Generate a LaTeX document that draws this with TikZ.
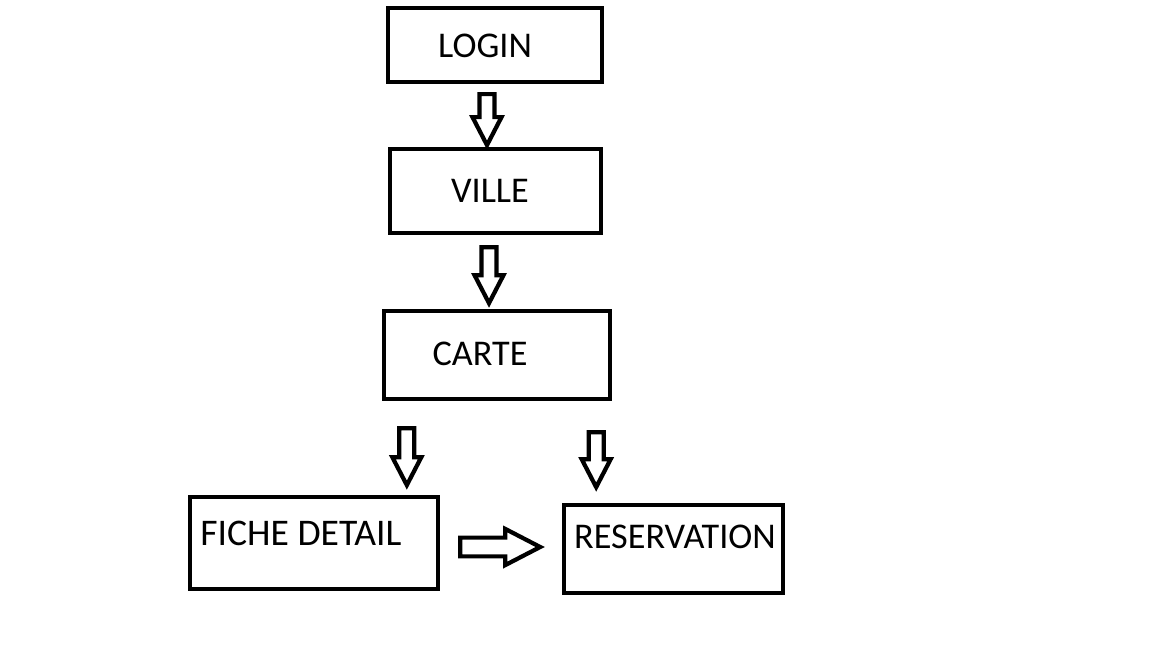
\documentclass[tikz,border=0pt]{standalone}
\usepackage{fontspec}
\setmainfont{Carlito}
\usepackage{tikz}
\usetikzlibrary{calc}
\usetikzlibrary{positioning}
\tikzstyle{ecran}=[rectangle,draw,line width=1.2pt,fill=white,inner sep=0pt]
\tikzstyle{titre}=[anchor=base,inner sep=0pt,font=\fontsize{10.3}{12}\selectfont]
\tikzstyle{trait}=[draw,line width=1.2pt,line join=miter,fill=white]
\tikzset{fleche/.pic={
  \path[trait] (0,-7.5) -- (#1-28,-7.5) -- (#1-28,-14.5) -- (#1,0)
    -- (#1-28,14.5) -- (#1-28,7.5) -- (0,7.5) -- cycle;
}}

\begin{document}
\begin{tikzpicture}[x=0.01cm,y=-0.01cm]
\useasboundingbox (0,0) rectangle (1152,648);
\node[ecran,minimum width=2.14cm,minimum height=0.74cm] (login) at (495,45) {};
\node[ecran,minimum width=2.11cm,minimum height=0.84cm] (ville) at (495.5,191) {};
\node[ecran,minimum width=2.26cm,minimum height=0.88cm] (carte) at (497,355) {};
\node[ecran,minimum width=2.48cm,minimum height=0.92cm] (fiche) at (314,543) {};
\node[ecran,minimum width=2.19cm,minimum height=0.88cm] (resa) at (673.5,549) {};
\node[titre] (tlogin) at (485,57) {LOGIN};
\node[titre] (tville) at (490,202) {VILLE};
\node[titre] (tcarte) at (480,365) {CARTE};
\node[titre,font=\fontsize{10.7}{13}\selectfont] (tfiche) at (301,545) {FICHE DETAIL};
\node[titre] (tresa) at (675,548) {RESERVATION};
%Placement des fleches
\pic[rotate=-90] (f1) at ($(login.south)+(-8,10)$) {fleche=51};
\pic[rotate=-90] (f2) at ($(ville.south)+(-6.5,12)$) {fleche=56};
\pic[rotate=-90] (f3) at ($(carte.south west)+(25,27)$) {fleche=57};
\pic[rotate=-90] (f4) at ($(carte.south east)+(-16,31)$) {fleche=55};
\pic[scale=1.25] (f5) at ($(fiche.east)+(20,4)$) {fleche=64};
\end{tikzpicture}
\end{document}
